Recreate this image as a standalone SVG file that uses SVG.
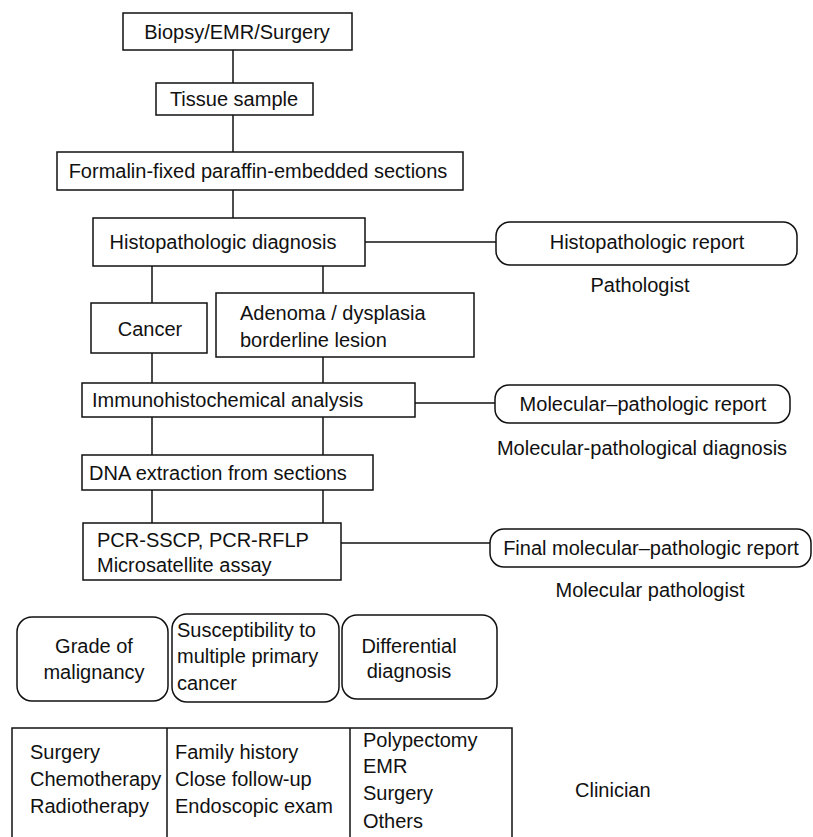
<svg xmlns="http://www.w3.org/2000/svg" width="813" height="837" viewBox="0 0 813 837">
<style>
.b{fill:#fff;stroke:#111;stroke-width:1.5}
.t{font-family:"Liberation Sans",Arial,Helvetica,sans-serif;font-size:20px;fill:#111}
.m{text-anchor:middle}
.c{stroke:#111;stroke-width:1.5;fill:none}
</style>
<rect width="813" height="837" fill="#fff"/>
<g id="connectors">
<line class="c" x1="233" y1="50" x2="233" y2="83"/>
<line class="c" x1="233" y1="115" x2="233" y2="152"/>
<line class="c" x1="233" y1="190" x2="233" y2="218"/>
<line class="c" x1="365" y1="242" x2="496" y2="242"/>
<line class="c" x1="152" y1="266" x2="152" y2="303"/>
<line class="c" x1="323" y1="266" x2="323" y2="293"/>
<line class="c" x1="152" y1="353" x2="152" y2="383"/>
<line class="c" x1="323" y1="357" x2="323" y2="383"/>
<line class="c" x1="415" y1="403" x2="495" y2="403"/>
<line class="c" x1="152" y1="417" x2="152" y2="455"/>
<line class="c" x1="323" y1="417" x2="323" y2="455"/>
<line class="c" x1="152" y1="490" x2="152" y2="523"/>
<line class="c" x1="323" y1="490" x2="323" y2="523"/>
<line class="c" x1="341" y1="543" x2="490" y2="543"/>
</g>
<g id="biopsy"><rect class="b" x="123" y="13" width="229" height="37"/><text class="t m" x="237" y="39">Biopsy/EMR/Surgery</text></g>
<g id="tissue"><rect class="b" x="156" y="83" width="157" height="32"/><text class="t m" x="234" y="106">Tissue sample</text></g>
<g id="formalin"><rect class="b" x="57" y="152" width="406" height="38"/><text class="t m" x="258" y="178">Formalin-fixed paraffin-embedded sections</text></g>
<g id="histdiag"><rect class="b" x="93" y="218" width="272" height="48"/><text class="t m" x="223" y="249">Histopathologic diagnosis</text></g>
<g id="histreport"><rect class="b" x="496" y="222" width="301" height="43" rx="14"/><text class="t m" x="647" y="249">Histopathologic report</text><text class="t m" x="640" y="292">Pathologist</text></g>
<g id="cancer"><rect class="b" x="91" y="303" width="116" height="50"/><text class="t m" x="150" y="336">Cancer</text></g>
<g id="adenoma"><rect class="b" x="216" y="293" width="258" height="64"/><text class="t" x="240" y="320">Adenoma / dysplasia</text><text class="t" x="240" y="347">borderline lesion</text></g>
<g id="ihc"><rect class="b" x="82" y="383" width="333" height="34"/><text class="t" x="92" y="407">Immunohistochemical analysis</text></g>
<g id="molreport"><rect class="b" x="495" y="385" width="295" height="38" rx="14"/><text class="t m" x="643" y="411">Molecular–pathologic report</text><text class="t m" x="642" y="455">Molecular-pathological diagnosis</text></g>
<g id="dna"><rect class="b" x="82" y="455" width="291" height="35"/><text class="t" x="89" y="480">DNA extraction from sections</text></g>
<g id="pcr"><rect class="b" x="83" y="523" width="258" height="57"/><text class="t" x="97" y="547">PCR-SSCP, PCR-RFLP</text><text class="t" x="97" y="572">Microsatellite assay</text></g>
<g id="finalreport"><rect class="b" x="490" y="529" width="321" height="38" rx="14"/><text class="t m" x="651" y="555">Final molecular–pathologic report</text><text class="t m" x="650" y="597">Molecular pathologist</text></g>
<g id="grade"><rect class="b" x="17" y="617" width="151" height="84" rx="15"/><text class="t m" x="94" y="653">Grade of</text><text class="t m" x="94" y="679">malignancy</text></g>
<g id="suscept"><rect class="b" x="172" y="614" width="167" height="88" rx="15"/><text class="t" x="177" y="637">Susceptibility to</text><text class="t" x="177" y="663">multiple primary</text><text class="t" x="177" y="690">cancer</text></g>
<g id="differential"><rect class="b" x="342" y="615" width="155" height="84" rx="15"/><text class="t m" x="409" y="653">Differential</text><text class="t m" x="409" y="678">diagnosis</text></g>
<g id="table">
<rect class="b" x="12" y="728" width="500" height="120"/>
<line class="c" x1="167" y1="728" x2="167" y2="840"/>
<line class="c" x1="350" y1="728" x2="350" y2="840"/>
<text class="t" x="30" y="759">Surgery</text><text class="t" x="30" y="786">Chemotherapy</text><text class="t" x="30" y="813">Radiotherapy</text>
<text class="t" x="175" y="759">Family history</text><text class="t" x="175" y="786">Close follow-up</text><text class="t" x="175" y="813">Endoscopic exam</text>
<text class="t" x="363" y="747">Polypectomy</text><text class="t" x="363" y="773">EMR</text><text class="t" x="363" y="800">Surgery</text><text class="t" x="363" y="828">Others</text>
</g>
<g id="clinician"><text class="t" x="575" y="797">Clinician</text></g>
</svg>
